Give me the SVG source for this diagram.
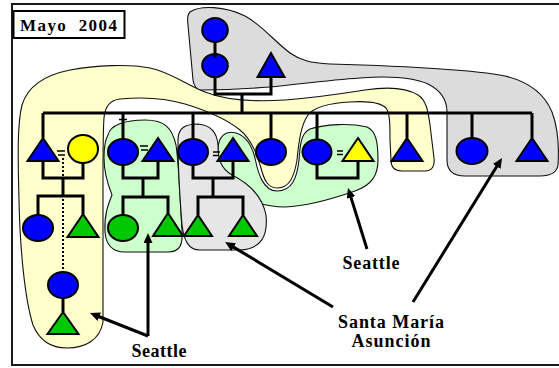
<svg xmlns="http://www.w3.org/2000/svg" width="559" height="368" viewBox="0 0 559 368">
  <defs>
    <style>
      .hull{stroke:#111;stroke-width:1.1}
      .yel{fill:#FFFFCC}
      .grn{fill:#CCFFCC}
      .gry{fill:#DCDCDC}
      .gry2{fill:#E6E6E6}
      .sym{stroke:#000;stroke-width:2}
      .b{fill:#0000FF}
      .y{fill:#FFFF00}
      .g{fill:#00C800}
      .ln{fill:none;stroke:#000;stroke-width:3;stroke-linejoin:miter}
      .dot{fill:none;stroke:#000;stroke-width:2;stroke-dasharray:2 2}
      .eq{fill:none;stroke:#000;stroke-width:1.3}
      .arr{fill:none;stroke:#000;stroke-width:3;marker-end:url(#head)}
      .lbl{font-family:"Liberation Serif","Times New Roman",serif;font-weight:bold;font-size:18px;fill:#000;text-anchor:middle}
    </style>
    <marker id="head" markerUnits="userSpaceOnUse" markerWidth="11" markerHeight="10" refX="2" refY="4.5" orient="auto">
      <path d="M0,0 L10,4.5 L0,9 Z" fill="#000"/>
    </marker>
  </defs>

  <rect x="0" y="0" width="559" height="368" fill="#fff"/>
  <!-- outer frame -->
  <rect x="12" y="4" width="600" height="361" fill="none" stroke="#1a1a1a" stroke-width="2"/>

  <!-- title -->
  <g id="title">
    <rect x="13.5" y="11" width="111" height="27" fill="#fff" stroke="#000" stroke-width="2"/>
    <text x="20" y="31" class="lbl" style="text-anchor:start;font-size:17px;white-space:pre" xml:space="preserve" textLength="97" lengthAdjust="spacing">Mayo  2004</text>
  </g>

  <!-- location hulls -->
  <g id="regions">
    <!-- green: child 5 and the in-law next to it -->
    <path id="hull-green-right" class="hull grn" d="M218,150 C218,136 226,130 236,133 C246,136 252,146 255,158 C258,173 263,191 277,191 C292,191 297,178 299,160 C300,145 301,133 310,129 C325,124 350,123 367,127 C376,131 378,142 378,160 C378,175 372,185 355,191 C335,198 310,206 285,207 C265,207 245,200 232,190 C222,182 218,172 218,160 Z"/>
    <!-- yellow: left branch, upper band and two hanging lobes -->
    <path id="hull-yellow" class="hull yel" d="M104,118 C105,106 110,100 120,99 C140,97 165,98 185,104 C205,110 225,118 240,130 C252,140 257,155 261,168 C264,180 268,188 277,188 C289,188 294,178 297,160 C299,140 301,125 308,115 C315,106 330,103 350,102 C365,101 380,102 386,108 C390,113 390,125 390,140 L391,160 C391,168 395,171 402,171 L425,171 C432,171 435,166 434,158 L430,125 C428,110 426,100 418,95 C405,87 385,87 365,90 C340,94 310,98 285,100 C255,102 225,100 205,92 C185,84 170,72 150,68 C130,64 95,65 70,70 C45,75 28,85 22,105 C17,125 18,160 19,200 C20,250 25,300 33,325 C40,342 52,348 67,348 C85,348 100,340 103,322 L103,180 C103,150 103,130 104,118 Z"/>
    <!-- gray: grandparents, long band and right-hand pair -->
    <path id="hull-gray-top" class="hull gry" d="M190,12 C200,5 225,6 245,16 C262,25 275,42 290,53 C300,60 310,63 330,64 C400,66 470,69 505,76 C530,82 545,95 552,112 C558,128 559,150 558,165 C557,172 552,176 540,176 L465,176 C452,176 447,170 447,160 L447,112 C447,100 440,90 428,84 C410,76 385,76 360,78 C330,80 300,84 270,87 C245,89 220,90 203,90 C196,90 194,86 193,80 L188,25 C187,18 188,14 190,12 Z"/>
    <!-- green: second couple and children -->
    <path id="hull-green-left" class="hull grn" d="M108,135 C110,125 125,120 145,120 C165,120 172,128 176,145 C179,165 180,200 182,230 C183,245 180,252 168,252 L125,252 C112,252 106,245 105,232 C104,215 108,205 112,195 C108,185 104,172 104,158 C104,148 105,140 108,135 Z"/>
    <!-- gray: third couple and children -->
    <path id="hull-gray-mid" class="hull gry2" d="M178,140 C178,128 185,124 198,124 C210,125 217,132 218,145 C218,158 220,168 232,175 C248,183 262,195 266,215 C268,235 262,249 240,250 L200,250 C188,250 184,240 182,225 C180,200 178,165 178,140 Z"/>
  </g>

  <!-- family lines -->
  <g id="connectors">
    <path class="ln" d="M215,77 V94 H271 V77 M242,94 V113 M43,113 H532"/>
    <path class="ln" d="M43,113 V138 M123,113 V139 M193,113 V139 M271,113 V139 M317,113 V139 M407,113 V138 M472,113 V138 M532,113 V138"/>
    <path class="ln" d="M43,161 V178 H83 V163 M63,178 V196 M38,215 V196 H83 V214"/>
    <path class="ln" d="M123,165 V178 H158 V161 M143,178 V197 M123,215 V197 H168 V213"/>
    <path class="ln" d="M193,165 V178 H233 V161 M213,178 V197 M198,215 V197 H243 V215"/>
    <path class="ln" d="M317,165 V178 H358 V161"/>
    <path class="ln" d="M63,298 V312"/>
    <path class="dot" d="M63,158 V177 M63,199 V272"/>
    <path class="eq" d="M57,151 H65 M58,155 H65 M140,146 H148 M141,150 H148 M213,152 H220 M213,155.5 H219 M337,151 H343 M337,154.5 H343 M119,119.5 H127"/>
  </g>

  <!-- people -->
  <g id="gp-f1"><ellipse class="sym b" cx="215" cy="30" rx="12.8" ry="12"/></g>
  <g id="gp-f2"><ellipse class="sym b" cx="215" cy="65.5" rx="12.8" ry="11.5"/></g>
  <path class="ln" d="M215,42 V58"/>
  <g id="gp-m"><polygon class="sym b" points="271,53 257.5,77 284.5,77"/></g>

  <g id="c1"><polygon class="sym b" points="43,138 27.5,161 58.5,161"/></g>
  <g id="c1-spouse"><ellipse class="sym y" cx="83" cy="149" rx="15" ry="14"/></g>
  <g id="c2"><ellipse class="sym b" cx="123" cy="152" rx="15" ry="13"/></g>
  <g id="c2-spouse"><polygon class="sym b" points="158,138 142.5,161 173.5,161"/></g>
  <g id="c3"><ellipse class="sym b" cx="193" cy="152" rx="15" ry="13"/></g>
  <g id="c3-spouse"><polygon class="sym b" points="233,138 217.5,161 248.5,161"/></g>
  <g id="c4"><ellipse class="sym b" cx="271" cy="152" rx="15" ry="13"/></g>
  <g id="c5"><ellipse class="sym b" cx="317" cy="152" rx="14.5" ry="12.5"/></g>
  <g id="c5-spouse"><polygon class="sym y" points="358,138 342.5,161 373.5,161"/></g>
  <g id="c6"><polygon class="sym b" points="407,138 391.5,161 422.5,161"/></g>
  <g id="c7"><ellipse class="sym b" cx="472" cy="151" rx="15.5" ry="13"/></g>
  <g id="c8"><polygon class="sym b" points="532,138 516.5,161 547.5,161"/></g>

  <g id="g1a"><ellipse class="sym b" cx="38" cy="228" rx="15" ry="13"/></g>
  <g id="g1b"><polygon class="sym g" points="83,214 67.5,237 98.5,237"/></g>
  <g id="g1c"><ellipse class="sym b" cx="63" cy="285" rx="15" ry="13"/></g>
  <g id="g1d"><polygon class="sym g" points="63,312 47.5,334 78.5,334"/></g>
  <g id="g2a"><ellipse class="sym g" cx="123" cy="228" rx="15" ry="13"/></g>
  <g id="g2b"><polygon class="sym g" points="168,213 153,236 183,236"/></g>
  <g id="g3a"><polygon class="sym g" points="198,215 184,236 212,236"/></g>
  <g id="g3b"><polygon class="sym g" points="243,215 229,236 257,236"/></g>

  <!-- place labels and pointers -->
  <g id="pointers">
    <path class="arr" d="M148,336 L148,241"/>
    <path class="arr" d="M148,336 L97.4,316"/>
    <path class="arr" d="M367,249 L350.4,195.6"/>
    <path class="arr" d="M333,307 L231.9,246.1"/>
    <path class="arr" d="M413,302 L497.8,164.8"/>
  </g>
  <g id="lbl-seattle-1"><text class="lbl" x="159" y="357" textLength="55" lengthAdjust="spacing">Seattle</text></g>
  <g id="lbl-seattle-2"><text class="lbl" x="371" y="269" textLength="57" lengthAdjust="spacing">Seattle</text></g>
  <g id="lbl-sma">
    <text class="lbl" x="391" y="328" textLength="106" lengthAdjust="spacing">Santa María</text>
    <text class="lbl" x="391" y="347" textLength="79" lengthAdjust="spacing">Asunción</text>
  </g>
</svg>
